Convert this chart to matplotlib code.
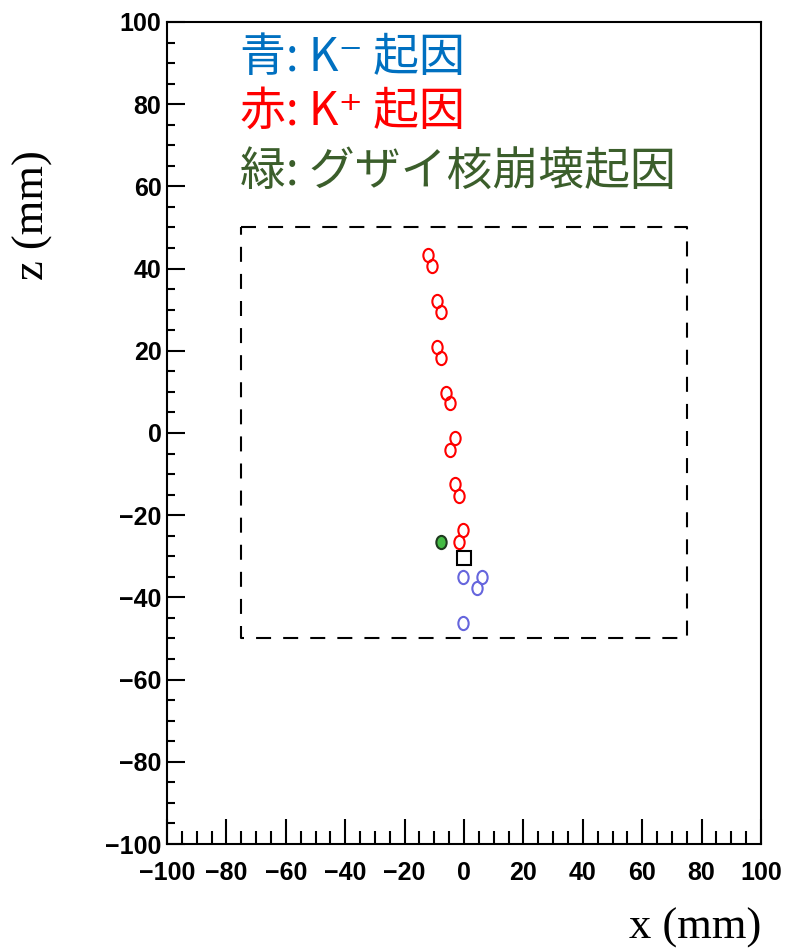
import matplotlib
matplotlib.use('Agg')
import matplotlib.pyplot as plt
from matplotlib.markers import MarkerStyle
from matplotlib.transforms import Affine2D

# 赤: K+ 起因
red_x = [-12.1, -10.7, -9.1, -7.6, -9.1, -7.6, -6.2, -4.7, -3.0, -4.7, -3.0, -1.7, -0.2, -1.7]
red_z = [43.3, 40.6, 32.2, 29.5, 21.0, 18.2, 9.8, 7.2, -1.3, -4.1, -12.5, -15.3, -23.6, -26.4]

# 青: K- 起因
blue_x = [-0.2, 6.0, 4.3, -0.2]
blue_z = [-35.0, -35.0, -37.8, -46.3]

# 緑: グザイ核崩壊起因
green_x = [-7.7]
green_z = [-26.4]

# 反応点 (四角)
vtx_x = [0.0]
vtx_z = [-30.5]

# 点線の枠
box_x = [-75, 75, 75, -75, -75]
box_z = [50, 50, -50, -50, 50]

legend_lines = ['青: K⁻ 起因', '赤: K⁺ 起因', '緑: グザイ核崩壊起因']
legend_colors = ['#0070c0', '#ff0000', '#3b5e2b']

fig = plt.figure(figsize=(7.86, 9.52), dpi=100)
ax = fig.add_axes([167/786, 1-844/952, 594/786, 822/952])

ax.plot(box_x, box_z, color='black', lw=1.5, linestyle=(0, (7.2, 5.8)))

ell = MarkerStyle('o', transform=Affine2D().scale(0.78, 1.0))
ax.plot(red_x, red_z, ls='none', marker=ell, ms=9.5, mfc='none', mec='#ff0000', mew=1.5)
ax.plot(blue_x, blue_z, ls='none', marker=ell, ms=9.5, mfc='none', mec='#6666dd', mew=1.5)
ax.plot(green_x, green_z, ls='none', marker=ell, ms=9.5, mfc='#44bb44', mec='#1e3a1e', mew=1.5)
ax.plot(vtx_x, vtx_z, ls='none', marker='s', ms=10.5, mfc='none', mec='black', mew=1.5)

ax.set_xlim(-100, 100)
ax.set_ylim(-100, 100)
ax.set_xticks(range(-100, 101, 20))
ax.set_yticks(range(-100, 101, 20))
ax.set_xticks(range(-100, 101, 5), minor=True)
ax.set_yticks(range(-100, 101, 5), minor=True)

for s in ax.spines.values():
    s.set_linewidth(1.5)

ax.tick_params(axis='x', which='major', direction='in', length=18, width=1.5, pad=12)
ax.tick_params(axis='x', which='minor', direction='in', length=9.4, width=1.5)
ax.tick_params(axis='y', which='major', direction='in', length=13, width=1.5, pad=4)
ax.tick_params(axis='y', which='minor', direction='in', length=5.8, width=1.5)
for lab in ax.get_xticklabels() + ax.get_yticklabels():
    lab.set_fontfamily('Liberation Sans')
    lab.set_fontweight('bold')
    lab.set_fontsize(18)

ax.set_xlabel('x (mm)', fontfamily='Liberation Serif', fontsize=32, ha='right', va='center')
ax.xaxis.set_label_coords(1.0, -0.102)
ax.set_ylabel('z (mm)', fontfamily='Liberation Serif', fontsize=32, ha='center', va='center')
ax.yaxis.set_label_coords(-0.2256, 0.765)

ys = [0.957, 0.891, 0.818]
for txt, c, y in zip(legend_lines, legend_colors, ys):
    ax.text(0.123, y, txt, transform=ax.transAxes, color=c, fontsize=33,
            family=['Noto Sans CJK JP', 'DejaVu Sans'], ha='left', va='center')

fig.savefig('out.png', dpi=100)
